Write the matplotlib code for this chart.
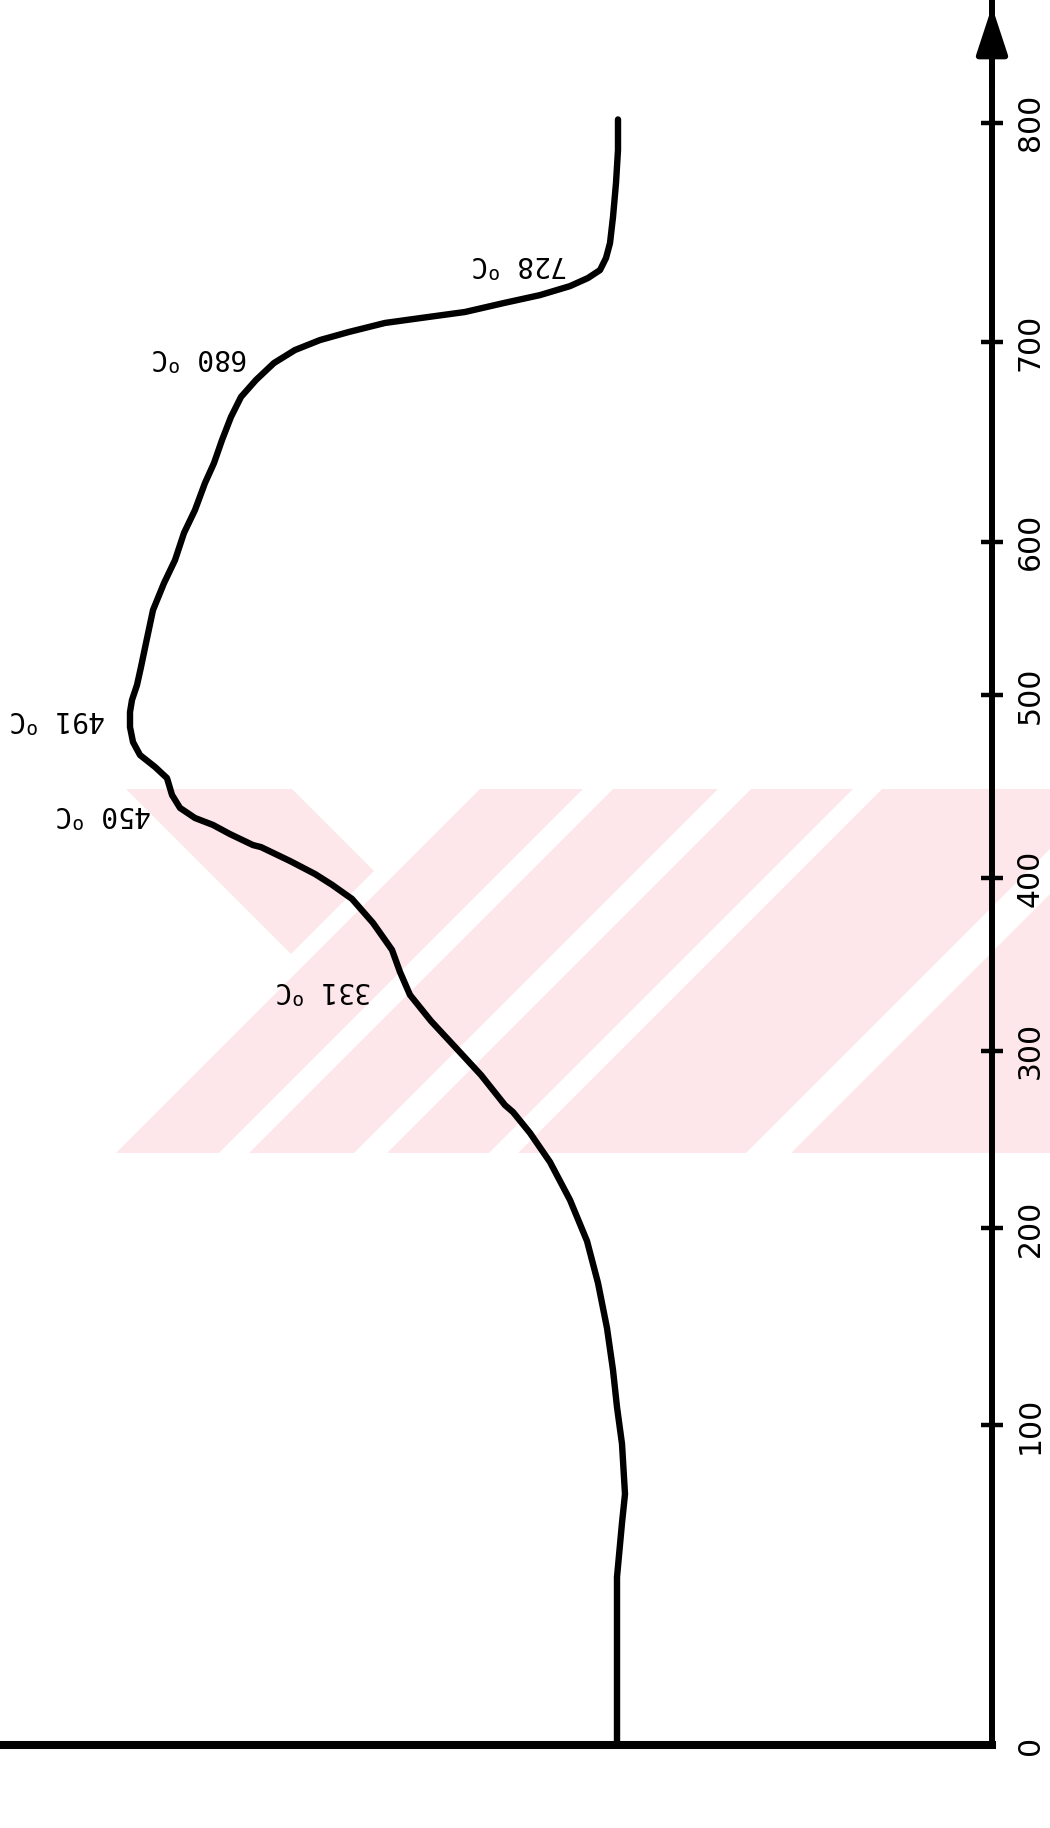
import numpy as np
import matplotlib
matplotlib.use("Agg")
import matplotlib.pyplot as plt
from matplotlib.scale import FuncScale
from matplotlib.patches import ArrowStyle, Polygon, Rectangle

# Furnace temperature (deg C) and DTA deflection (arbitrary units, 0 = baseline)
temperature = [0, 52.5, 69.4, 78.4, 94.1, 109.1, 127.9, 149.2, 172.1, 193.4,
               215.8, 237.2, 253.6, 265.4, 269.3, 286.3, 301.6, 317.2, 332.3, 345.6,
               358.4, 374.0, 387.9, 396.1, 402.2, 409.3, 416.9, 418.0, 424.0, 429.0,
               432.8, 438.3, 445.4, 454.6, 460.7, 467.2, 474.3, 482.5, 490.7, 497.3,
               506.5, 518.3, 533.9, 555.4, 573.0, 588.0, 604.4, 615.9, 629.4, 639.4,
               650.9, 662.5, 672.5, 681.0, 689.5, 696.0, 700.9, 704.6, 708.7, 710.9,
               713.7, 717.8, 721.4, 725.5, 729.2, 732.8, 738.3, 745.1, 757.0, 772.5,
               787.6, 801.5]
dta_signal = [-0.1, -0.1, 0.4, 0.7, 0.4, -0.1, -0.5, -1.1, -2.0, -3.1,
              -4.8, -6.8, -8.8, -10.5, -11.3, -13.7, -16.2, -18.7, -20.8, -21.8,
              -22.6, -24.5, -26.6, -28.6, -30.3, -32.8, -35.7, -36.5, -38.8, -40.5,
              -42.3, -43.8, -44.6, -45.1, -46.3, -47.8, -48.5, -48.8, -48.8, -48.6,
              -48.1, -47.7, -47.2, -46.5, -45.4, -44.3, -43.4, -42.3, -41.3, -40.4,
              -39.6, -38.7, -37.7, -36.2, -34.4, -32.3, -29.8, -26.9, -23.3, -19.8,
              -15.3, -11.4, -7.8, -4.8, -3.0, -1.8, -1.2, -0.8, -0.5, -0.2,
              0.0, 0.0]

# Marked peak / transition temperatures
event_temps = [331, 450, 491, 680, 728]
tick_values = [0, 100, 200, 300, 400, 500, 600, 700, 800]

# Recorder temperature scale (non-linear thermocouple chart), chart units per node
SCALE_T = np.array([0, 100, 200, 300, 400, 500, 600, 700, 800], float)
SCALE_U = np.array([0, 320, 517, 694.3, 867, 1050, 1203.3, 1403, 1622.3], float)
SLOPE_HI = (SCALE_U[-1] - SCALE_U[-2]) / (SCALE_T[-1] - SCALE_T[-2])
SLOPE_LO = (SCALE_U[1] - SCALE_U[0]) / (SCALE_T[1] - SCALE_T[0])


def t_to_chart(t):
    t = np.asarray(t, float)
    flat = np.atleast_1d(t).ravel()
    out = np.interp(flat, SCALE_T, SCALE_U)
    hi = flat > SCALE_T[-1]
    lo = flat < SCALE_T[0]
    out[hi] = SCALE_U[-1] + (flat[hi] - SCALE_T[-1]) * SLOPE_HI
    out[lo] = SCALE_U[0] + (flat[lo] - SCALE_T[0]) * SLOPE_LO
    return out.reshape(t.shape)


def chart_to_t(u):
    u = np.asarray(u, float)
    flat = np.atleast_1d(u).ravel()
    out = np.interp(flat, SCALE_U, SCALE_T)
    hi = flat > SCALE_U[-1]
    lo = flat < SCALE_U[0]
    out[hi] = SCALE_T[-1] + (flat[hi] - SCALE_U[-1]) / SLOPE_HI
    out[lo] = SCALE_T[0] + (flat[lo] - SCALE_U[0]) / SLOPE_LO
    return out.reshape(u.shape)


plt.rcParams["mathtext.fontset"] = "custom"
plt.rcParams["mathtext.rm"] = "DejaVu Sans Mono"

H = 1828.0
W = 1050.0
fig = plt.figure(figsize=(W / 100, H / 100), dpi=100)
fig.patch.set_facecolor("white")

# ---- faint archive stamp behind the chart (page pixel coordinates) ----
bg = fig.add_axes([0, 0, 1, 1], zorder=0)
bg.set_xlim(0, W)
bg.set_ylim(H, 0)
bg.axis("off")
STAMP_PINK = "#fde7eb"
STRIP_TOP, STRIP_BOTTOM = 789, 1153
strip = Rectangle((0, STRIP_TOP), W, STRIP_BOTTOM - STRIP_TOP,
                  facecolor="none", edgecolor="none")
bg.add_patch(strip)


def add_clipped(pts, color):
    p = Polygon(pts, closed=True, facecolor=color, edgecolor="none")
    bg.add_patch(p)
    p.set_clip_path(strip)


# falling arm (x - y constant) ending just before the rising bands
add_clipped([(126, 789), (292, 789), (374, 871), (291, 954)], STAMP_PINK)
# rising bands (x + y >= const)
add_clipped([(480, 789), (W, 789), (W, 1153), (116, 1153)], STAMP_PINK)


def rising_gap(c1, c2):
    y0, y1 = 700, 1250
    add_clipped([(c1 - y0, y0), (c2 - y0, y0), (c2 - y1, y1), (c1 - y1, y1)], "white")


for c1, c2 in [(1372, 1402), (1507, 1540), (1642, 1671), (1899, 1944)]:
    rising_gap(c1, c2)

# ---- chart ----
ax = fig.add_axes([0.0, 83 / H, 992 / W, 1742 / H], zorder=1)
ax.set_facecolor("none")

ax.set_yscale(FuncScale(ax, (t_to_chart, chart_to_t)))
ax.set_xlim(-61.8, 37.4)
ax.set_ylim(0, 854.6)

# DTA trace
ax.plot(dta_signal, temperature, color="black", lw=4.6,
        solid_joinstyle="round", solid_capstyle="round", zorder=3)

# Axis frame: temperature axis on the right, baseline at the bottom
for side in ("left", "top"):
    ax.spines[side].set_visible(False)
ax.spines["right"].set_linewidth(4.3)
ax.spines["bottom"].set_linewidth(5.8)
for side in ("right", "bottom"):
    ax.spines[side].set_capstyle("projecting")
    ax.spines[side].set_color("black")

ax.xaxis.set_visible(False)
ax.yaxis.tick_right()
ax.set_yticks(tick_values)
ax.set_yticklabels([str(v) for v in tick_values])
ax.tick_params(axis="y", which="major", direction="inout", length=16.5, width=3.2,
               labelsize=21.5, labelrotation=90, pad=9.0, colors="black")
ax.yaxis.set_minor_locator(matplotlib.ticker.NullLocator())
for lab in ax.get_yticklabels():
    lab.set_va("center")
    lab.set_family("DejaVu Sans")
ax.yaxis.get_major_ticks()[0].tick2line.set_visible(False)

# Arrow head at the top of the temperature axis
ax.annotate("", xy=(1, 0.998), xytext=(1, 0.95), xycoords="axes fraction",
            textcoords="axes fraction",
            arrowprops=dict(arrowstyle=ArrowStyle("-|>", head_length=29, head_width=9.5),
                            mutation_scale=1, lw=4.3, color="black",
                            shrinkA=0, shrinkB=0),
            annotation_clip=False, zorder=4)

# Peak labels (typed upside down on the original sheet)
label_offsets = {331: (-63, 6), 450: (-47, -19), 491: (-52, -5),
                 680: (-39, 19), 728: (-45, 13)}
for t in event_temps:
    s = np.interp(t, temperature, dta_signal)
    dx, dy = label_offsets[t]
    ax.annotate(f"{t} $^{{\\mathrm{{o}}}}$C", xy=(s, t), xytext=(dx, dy),
                textcoords="offset points", rotation=180, ha="center", va="center",
                fontsize=20, family="DejaVu Sans Mono", color="black",
                annotation_clip=False)

fig.savefig("out.png", dpi=100, facecolor="white")
